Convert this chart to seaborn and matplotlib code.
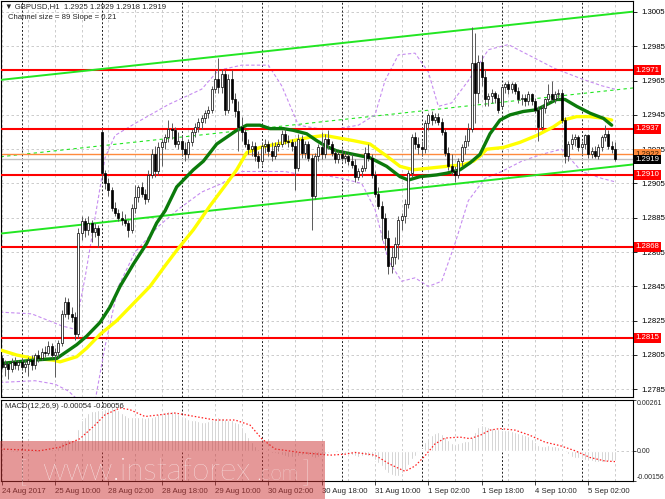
import numpy as np
import matplotlib
matplotlib.use("Agg")
import matplotlib.pyplot as plt
import seaborn as sns
from matplotlib.patches import Rectangle

sns.set_style("white")
plt.rcParams['font.family'] = ['Liberation Sans', 'DejaVu Sans']

# ---------------- data (GBPUSD H1, 24 Aug 18:00 .. 5 Sep 10:00) ----------------
opens = [1.2803,1.2798,1.2800,1.2797,1.2801,1.2799,1.2801,1.2798,1.2800,1.2802,
         1.2799,1.2805,1.2803,1.2807,1.2806,1.2810,1.2805,1.2807,1.2812,1.2829,
         1.2836,1.2829,1.2827,1.2817,1.2876,1.2883,1.2878,1.2882,1.2877,1.2879,
         1.2935,1.2911,1.2905,1.2901,1.2891,1.2888,1.2885,1.2884,1.2882,1.2878,
         1.2891,1.2897,1.2903,1.2899,1.2896,1.2910,1.2922,1.2912,1.2926,1.2929,
         1.2932,1.2937,1.2936,1.2928,1.2930,1.2925,1.2922,1.2929,1.2935,1.2938,
         1.2941,1.2943,1.2946,1.2948,1.2960,1.2966,1.2961,1.2969,1.2948,1.2966,
         1.2954,1.2947,1.2938,1.2935,1.2928,1.2925,1.2927,1.2921,1.2918,1.2927,
         1.2928,1.2924,1.2921,1.2927,1.2928,1.2934,1.2930,1.2929,1.2927,1.2914,
         1.2931,1.2923,1.2928,1.2920,1.2898,1.2921,1.2926,1.2922,1.2931,1.2928,
         1.2923,1.2919,1.2922,1.2920,1.2921,1.2918,1.2916,1.2909,1.2912,1.2914,
         1.2923,1.2920,1.2910,1.2899,1.2892,1.2885,1.2873,1.2857,1.2862,1.2870,
         1.2884,1.2886,1.2893,1.2911,1.2932,1.2928,1.2926,1.2925,1.2940,1.2945,
         1.2942,1.2944,1.2941,1.2935,1.2923,1.2915,1.2912,1.2910,1.2918,1.2926,
         1.2930,1.2937,1.2975,1.2958,1.2976,1.2967,1.2954,1.2956,1.2958,1.2955,
         1.2950,1.2961,1.2963,1.2960,1.2963,1.2959,1.2954,1.2955,1.2953,1.2957,
         1.2953,1.2948,1.2938,1.2949,1.2954,1.2957,1.2954,1.2957,1.2958,1.2942,
         1.2921,1.2928,1.2931,1.2932,1.2926,1.2928,1.2933,1.2922,1.2924,1.2921,
         1.2926,1.2932,1.2934,1.2927,1.2925]
highs = [1.2805,1.2802,1.2801,1.2803,1.2804,1.2802,1.2803,1.2802,1.2804,1.2805,
         1.2806,1.2808,1.2809,1.2810,1.2813,1.2812,1.2809,1.2814,1.2831,1.2839,
         1.2838,1.2833,1.2830,1.2879,1.2886,1.2885,1.2886,1.2884,1.2882,1.2881,
         1.2937,1.2913,1.2908,1.2903,1.2894,1.2890,1.2889,1.2887,1.2884,1.2893,
         1.2904,1.2904,1.2906,1.2902,1.2913,1.2925,1.2927,1.2929,1.2931,1.2934,
         1.2942,1.2940,1.2938,1.2935,1.2933,1.2929,1.2931,1.2937,1.2940,1.2943,
         1.2945,1.2948,1.2950,1.2962,1.2971,1.2978,1.2972,1.2971,1.2969,1.2971,
         1.2958,1.2953,1.2944,1.2937,1.2931,1.2930,1.2929,1.2924,1.2929,1.2931,
         1.2930,1.2929,1.2929,1.2931,1.2936,1.2937,1.2933,1.2931,1.2930,1.2934,
         1.2933,1.2930,1.2930,1.2922,1.2923,1.2928,1.2935,1.2934,1.2936,1.2930,
         1.2925,1.2924,1.2925,1.2924,1.2923,1.2922,1.2919,1.2914,1.2916,1.2926,
         1.2928,1.2922,1.2912,1.2903,1.2895,1.2888,1.2878,1.2868,1.2874,1.2886,
         1.2888,1.2896,1.2913,1.2934,1.2935,1.2932,1.2930,1.2942,1.2946,1.2947,
         1.2946,1.2946,1.2943,1.2937,1.2926,1.2922,1.2915,1.2920,1.2928,1.2933,
         1.2940,1.2996,1.2993,1.2980,1.2980,1.2972,1.2958,1.2960,1.2959,1.2957,
         1.2962,1.2964,1.2965,1.2964,1.2964,1.2961,1.2957,1.2957,1.2959,1.2958,
         1.2955,1.2950,1.2951,1.2955,1.2963,1.2965,1.2959,1.2960,1.2960,1.2944,
         1.2930,1.2934,1.2934,1.2933,1.2930,1.2934,1.2934,1.2926,1.2927,1.2928,
         1.2933,1.2939,1.2936,1.2930,1.2929]
lows = [1.2797,1.2793,1.2791,1.2795,1.2797,1.2796,1.2796,1.2795,1.2793,1.2796,
        1.2797,1.2801,1.2802,1.2804,1.2805,1.2803,1.2792,1.2804,1.2810,1.2827,
        1.2826,1.2824,1.2814,1.2815,1.2872,1.2874,1.2875,1.2871,1.2874,1.2868,
        1.2907,1.2902,1.2898,1.2889,1.2886,1.2883,1.2881,1.2880,1.2874,1.2876,
        1.2888,1.2894,1.2897,1.2893,1.2894,1.2908,1.2909,1.2910,1.2915,1.2925,
        1.2929,1.2931,1.2926,1.2925,1.2921,1.2918,1.2920,1.2927,1.2932,1.2935,
        1.2937,1.2940,1.2943,1.2946,1.2958,1.2958,1.2958,1.2945,1.2946,1.2952,
        1.2944,1.2924,1.2930,1.2926,1.2922,1.2921,1.2918,1.2914,1.2916,1.2923,
        1.2921,1.2918,1.2919,1.2924,1.2926,1.2928,1.2926,1.2924,1.2901,1.2912,
        1.2920,1.2920,1.2918,1.2878,1.2896,1.2918,1.2919,1.2920,1.2925,1.2921,
        1.2917,1.2917,1.2918,1.2917,1.2916,1.2914,1.2906,1.2907,1.2909,1.2912,
        1.2918,1.2908,1.2897,1.2890,1.2872,1.2866,1.2852,1.2853,1.2858,1.2861,
        1.2878,1.2882,1.2891,1.2909,1.2925,1.2922,1.2921,1.2923,1.2936,1.2939,
        1.2940,1.2939,1.2933,1.2921,1.2913,1.2910,1.2906,1.2908,1.2915,1.2922,
        1.2927,1.2935,1.2940,1.2952,1.2962,1.2950,1.2950,1.2952,1.2952,1.2946,
        1.2949,1.2958,1.2957,1.2958,1.2957,1.2952,1.2951,1.2950,1.2951,1.2951,
        1.2946,1.2930,1.2936,1.2946,1.2952,1.2953,1.2952,1.2954,1.2940,1.2917,
        1.2918,1.2925,1.2927,1.2924,1.2922,1.2925,1.2920,1.2920,1.2920,1.2919,
        1.2924,1.2930,1.2925,1.2923,1.2918]
closes = [1.2798,1.2800,1.2797,1.2801,1.2799,1.2801,1.2798,1.2800,1.2802,1.2799,
          1.2805,1.2803,1.2807,1.2806,1.2810,1.2805,1.2807,1.2812,1.2829,1.2836,
          1.2829,1.2827,1.2817,1.2876,1.2883,1.2878,1.2882,1.2877,1.2879,1.2875,
          1.2911,1.2905,1.2901,1.2891,1.2888,1.2885,1.2884,1.2882,1.2878,1.2891,
          1.2897,1.2903,1.2899,1.2896,1.2910,1.2922,1.2912,1.2926,1.2929,1.2932,
          1.2937,1.2936,1.2928,1.2930,1.2925,1.2922,1.2929,1.2935,1.2938,1.2941,
          1.2943,1.2946,1.2948,1.2960,1.2966,1.2961,1.2969,1.2948,1.2966,1.2954,
          1.2947,1.2938,1.2935,1.2928,1.2925,1.2927,1.2921,1.2918,1.2927,1.2928,
          1.2924,1.2921,1.2927,1.2928,1.2934,1.2930,1.2929,1.2927,1.2914,1.2931,
          1.2923,1.2928,1.2920,1.2898,1.2921,1.2926,1.2922,1.2931,1.2928,1.2923,
          1.2919,1.2922,1.2920,1.2921,1.2918,1.2916,1.2909,1.2912,1.2914,1.2923,
          1.2920,1.2910,1.2899,1.2892,1.2885,1.2873,1.2857,1.2862,1.2870,1.2884,
          1.2886,1.2893,1.2911,1.2932,1.2928,1.2926,1.2925,1.2940,1.2945,1.2942,
          1.2944,1.2941,1.2935,1.2923,1.2915,1.2912,1.2910,1.2918,1.2926,1.2930,
          1.2937,1.2975,1.2958,1.2976,1.2967,1.2954,1.2956,1.2958,1.2955,1.2948,
          1.2961,1.2963,1.2960,1.2963,1.2959,1.2954,1.2955,1.2953,1.2957,1.2953,
          1.2948,1.2938,1.2949,1.2954,1.2957,1.2954,1.2957,1.2958,1.2942,1.2921,
          1.2928,1.2931,1.2932,1.2926,1.2928,1.2933,1.2922,1.2924,1.2921,1.2926,
          1.2932,1.2934,1.2927,1.2925,1.2919]

# moving averages read at selected bars
ma_green_x = [-0.5, 9.5, 16.5, 19.5, 22.5, 25.5, 29.5, 32.5, 35.5, 39.5, 43.5, 46.5,
              49, 52.5, 57.5, 60.5, 64.5, 67.5, 70.5, 73.5, 77.5, 80.5, 84.5, 87.5,
              91.5, 94.5, 97, 100.5, 105.5, 110.5, 115.5, 119.5, 122, 125.5, 130.5,
              133.5, 137.5, 140.5, 143.5, 146.5, 149.5, 152.5, 156.5, 160.5, 163.5,
              166.5, 169, 172.5, 176.5, 180.5, 183]
ma_green_y = [1.2800, 1.2802, 1.2803, 1.2807, 1.2811, 1.2816, 1.2824, 1.2833, 1.2845,
              1.2858, 1.2870, 1.2882, 1.2889, 1.2903, 1.2913, 1.2918, 1.2928, 1.2932,
              1.2936, 1.2939, 1.2939, 1.2937, 1.2937, 1.2936, 1.2934, 1.2930, 1.2927,
              1.2924, 1.2922, 1.2920, 1.2915, 1.2909, 1.2907, 1.2909, 1.2910, 1.2911,
              1.2913, 1.2917, 1.2922, 1.2934, 1.2942, 1.2945, 1.2947, 1.2948, 1.2951,
              1.2954, 1.2954, 1.2950, 1.2946, 1.2943, 1.2939]
ma_yellow_x = [-0.5, 4.5, 9.5, 15.5, 17.5, 22.5, 25.5, 29.5, 34.5, 39.5, 44.5, 49,
               52.5, 57.5, 62.5, 67.5, 70.5, 73.5, 77.5, 82.5, 87.5, 92.5, 97, 105.5,
               110.5, 115.5, 119.5, 123.5, 128.5, 133.5, 138.5, 141.5, 143.5, 145.5,
               150.5, 155.5, 160.5, 165.5, 168.5, 172.5, 176.5, 180.5, 183]
ma_yellow_y = [1.2808, 1.2805, 1.2803, 1.2802, 1.2801, 1.2804, 1.2809, 1.2817, 1.2825,
               1.2835, 1.2845, 1.2857, 1.2866, 1.2878, 1.2892, 1.2905, 1.2913, 1.2923,
               1.2926, 1.2928, 1.2930, 1.2932, 1.2933, 1.2930, 1.2928, 1.2921, 1.2915,
               1.2913, 1.2914, 1.2915, 1.2916, 1.2918, 1.2921, 1.2925, 1.2926, 1.2929,
               1.2933, 1.2938, 1.2942, 1.2944, 1.2944, 1.2943, 1.2942]

# envelope bands (dashed violet)
band_up_x = [-0.5, 9, 18, 22, 25, 28, 31, 34, 40, 50, 60, 65, 72, 80, 84, 89, 95, 101,
             107, 112, 115, 119, 124, 128, 131, 135, 140, 146, 152, 158, 166, 174, 180, 184]
band_up_y = [1.2830, 1.2829, 1.2822, 1.2820, 1.2850, 1.2885, 1.2920, 1.2933, 1.2940,
             1.2951, 1.2960, 1.2971, 1.2974, 1.2974, 1.2962, 1.2939, 1.2937, 1.2937,
             1.2939, 1.2945, 1.2965, 1.2980, 1.2981, 1.2970, 1.2950, 1.2952, 1.2965,
             1.2983, 1.2986, 1.2980, 1.2972, 1.2966, 1.2962, 1.2960]
band_lo_x = [-0.5, 10, 16, 20, 25, 28, 31, 35, 40, 47, 53, 60, 66, 72, 78, 85, 90, 96,
             102, 108, 112, 116, 120, 124, 128, 132, 136, 140, 145, 150, 156, 162, 168,
             174, 180, 184]
band_lo_y = [1.2789, 1.2790, 1.2788, 1.2784, 1.2775, 1.2778, 1.2810, 1.2845, 1.2865,
             1.2880, 1.2890, 1.2900, 1.2905, 1.2912, 1.2912, 1.2912, 1.2910, 1.2910,
             1.2908, 1.2905, 1.2890, 1.2860, 1.2848, 1.2850, 1.2845, 1.2848, 1.2870,
             1.2895, 1.2908, 1.2912, 1.2918, 1.2922, 1.2925, 1.2912, 1.2908, 1.2906]

# regression channel (ends at the chart edges)
channel_x = [-0.36, 189.4]
channel_upper = [1.29654, 1.30052]
channel_middle = [1.29206, 1.29607]
channel_lower = [1.28758, 1.29161]

red_levels = [1.2971, 1.2937, 1.2910, 1.2868, 1.2815]
orange_level = 1.2922
last_price = 1.2919

price_ticks = [1.3005, 1.2985, 1.2965, 1.2945, 1.2925, 1.2905, 1.2885, 1.2865,
               1.2845, 1.2825, 1.2805, 1.2785]

time_tick_bars = [0, 16, 32, 48, 64, 80, 96, 112, 128, 144, 160, 176]
time_tick_labels = ["24 Aug 2017", "25 Aug 10:00", "28 Aug 02:00", "28 Aug 18:00",
                    "29 Aug 10:00", "30 Aug 02:00", "30 Aug 18:00", "31 Aug 10:00",
                    "1 Sep 02:00", "1 Sep 18:00", "4 Sep 10:00", "5 Sep 02:00"]
day_start_bars = [6, 30, 54, 78, 102, 126, 150, 174]

# MACD histogram (x1e-5), one value per bar
macd_hist = [-3, -4, -5, -4, -3, -4, -5, -4, -3, -2, -1, 0, 2, 4, 6, 8, 10, 18, 44, 53,
             58, 56, 53, 114, 158, 176, 194, 202, 206, 208, 211, 216, 220, 224, 220, 211,
             194, 185, 176, 176, 176, 172, 171, 167, 171, 176, 181, 188, 194, 197, 202,
             202, 197, 188, 181, 171, 164, 158, 157, 153, 150, 150, 153, 158, 167, 171,
             167, 164, 160, 157, 150, 141, 123, 97, 70, 44, 26, 9, 4, 0, -5, -11, -14,
             -18, -23, -26, -30, -32, -30, -26, -23, -19, -23, -35, -37, -30, -23, -18,
             -12, -5, -4, -2, -5, -12, -18, -23, -26, -30, -26, -23, -26, -35, -48, -62,
             -79, -97, -114, -127, -132, -128, -114, -97, -76, -44, -26, -9, 9, 44, 65,
             79, 93, 97, 88, 70, 53, 40, 35, 40, 44, 48, 51, 70, 97, 123, 132, 128, 123,
             118, 114, 111, 106, 106, 104, 100, 97, 92, 86, 79, 76, 62, 44, 30, 26, 26,
             30, 26, 23, 18, 12, 0, -18, -30, -37, -40, -44, -48, -51, -55, -56, -58,
             -58, -56, -55, -55, -54]
macd_sig_x = [-0.5, 11.5, 17.5, 23.5, 28, 31, 35.5, 38.5, 43, 47.5, 52, 58, 64, 70,
              74.5, 78, 82, 89.5, 98.5, 103, 106, 112, 116.5, 121, 124, 127, 130, 133,
              137.5, 140.5, 143.5, 146.5, 149.5, 154, 158.5, 163, 167.5, 172, 176.5,
              181, 184]
macd_sig_y = [9, 0, 18, 62, 132, 185, 220, 211, 176, 185, 194, 176, 158, 158, 132, 62,
              9, -9, -23, -18, -9, -23, -70, -106, -79, -26, 35, 65, 70, 62, 79, 106,
              114, 106, 79, 44, 26, 0, -35, -53, -56]

# ---------------- figure ----------------
W, H = 665, 499
fig = plt.figure(figsize=(W / 100, H / 100), dpi=100)
fig.patch.set_facecolor("white")


def fx(px):
    return px / W


def fy(py):
    return 1 - py / H


ax = fig.add_axes([fx(0.5), fy(397), fx(633) - fx(0.5), fy(1) - fy(397)])
axm = fig.add_axes([fx(0.5), fy(481), fx(633) - fx(0.5), fy(400) - fy(481)])

XL = (-0.36, 189.4)
O = np.array(opens); Hh = np.array(highs); L = np.array(lows); C = np.array(closes)
N = len(O)
x = np.arange(N)

grid_kw = dict(color="#c4c4c4", lw=0.6, ls=(0, (3, 3)), zorder=0)
sep_kw = dict(color="#202020", lw=0.7, ls=(0, (2, 2)), zorder=1)
for a in (ax, axm):
    for b in range(0, 190, 8):
        a.axvline(b, **grid_kw)
    for b in day_start_bars:
        a.axvline(b, **sep_kw)
for p in price_ticks:
    ax.axhline(p, **grid_kw)
axm.axhline(0, **grid_kw)

# channel
ax.plot(channel_x, channel_upper, color="#22e622", lw=1.4, zorder=6)
ax.plot(channel_x, channel_lower, color="#22e622", lw=1.4, zorder=6)
ax.plot(channel_x, channel_middle, color="#22e622", lw=0.8, ls=(0, (3, 3)), zorder=2)

# bands
sns.lineplot(x=band_up_x, y=band_up_y, ax=ax, color="#c68cf0", lw=0.8,
             linestyle=(0, (3, 2)), zorder=2, legend=False)
sns.lineplot(x=band_lo_x, y=band_lo_y, ax=ax, color="#c68cf0", lw=0.8,
             linestyle=(0, (3, 2)), zorder=2, legend=False)

# horizontal levels
ax.axhline(last_price, color="#c0c0c0", lw=1.0, zorder=2)
ax.axhline(orange_level, color="#ff8a3c", lw=1.0, zorder=2)
for lv in red_levels:
    ax.axhline(lv, color="#ff0000", lw=1.5, zorder=5)

# moving averages
sns.lineplot(x=ma_yellow_x, y=ma_yellow_y, ax=ax, color="#ffff00", lw=2.4,
             zorder=7, legend=False)
sns.lineplot(x=ma_green_x, y=ma_green_y, ax=ax, color="#0b7a0b", lw=2.4,
             zorder=7, legend=False)

# candles
up = C >= O
body_lo = np.minimum(O, C)
body_h = np.maximum(np.abs(C - O), 0.00004)
ax.vlines(x, L, Hh, color="#5a5a5a", lw=0.7, zorder=8)
ax.bar(x[up], body_h[up], bottom=body_lo[up], width=0.62, color="white",
       edgecolor="black", lw=0.5, zorder=9)
ax.bar(x[~up], body_h[~up], bottom=body_lo[~up], width=0.62, color="black",
       edgecolor="black", lw=0.5, zorder=9)

ax.set_xlim(*XL)
ax.set_ylim(1.278051, 1.301141)
ax.set_xticks([])
ax.yaxis.tick_right()
ax.set_yticks(price_ticks)
ax.set_yticklabels([f"{p:.4f}" for p in price_ticks])
ax.tick_params(axis="y", right=True, length=3, width=0.6, pad=3, labelsize=5.6,
               colors="black", direction="out")
for s in ax.spines.values():
    s.set_color("black"); s.set_linewidth(0.8)

lab_tr = ax.get_yaxis_transform()
for lv in red_levels:
    ax.text(1.004, lv, f"{lv:.4f}", transform=lab_tr, va="center", ha="left",
            fontsize=5.6, color="white", clip_on=False, zorder=20,
            bbox=dict(boxstyle="square,pad=0.18", fc="#ff0000", ec="none"))
ax.text(1.004, orange_level, f"{orange_level:.4f}", transform=lab_tr, va="center",
        ha="left", fontsize=5.6, color="#3a2000", clip_on=False, zorder=20,
        bbox=dict(boxstyle="square,pad=0.18", fc="#ff8a3c", ec="none"))
ax.text(1.004, last_price, f"{last_price:.4f}", transform=lab_tr, va="center",
        ha="left", fontsize=5.6, color="white", clip_on=False, zorder=21,
        bbox=dict(boxstyle="square,pad=0.18", fc="black", ec="none"))

ax.text(0.007, 0.996, "\u25bc GBPUSD,H1  1.2925 1.2929 1.2918 1.2919",
        transform=ax.transAxes, va="top", ha="left", fontsize=5.6, zorder=25)
ax.text(0.012, 0.968, "Channel size = 89 Slope = 0.21", transform=ax.transAxes,
        va="top", ha="left", fontsize=5.6, zorder=25)

# MACD panel
axm.bar(x, np.array(macd_hist) * 1e-5, width=0.66, color="#bdbdbd", zorder=2)
sns.lineplot(x=macd_sig_x, y=np.array(macd_sig_y) * 1e-5, ax=axm, color="#ff2020",
             lw=0.9, linestyle=(0, (1.2, 1.6)), zorder=3, legend=False)
axm.set_xlim(*XL)
axm.set_ylim(-0.00156, 0.00261)
axm.yaxis.tick_right()
axm.set_yticks([0.00261, 0.0, -0.00156])
axm.set_yticklabels(["0.00261", "0.00", "-0.00156"])
axm.tick_params(axis="y", right=True, length=2, width=0.6, pad=1, labelsize=5.0,
                direction="out")
yl = axm.get_yticklabels()
yl[0].set_va("top"); yl[2].set_va("bottom")
axm.set_xticks(time_tick_bars)
axm.set_xticklabels(time_tick_labels)
axm.tick_params(axis="x", bottom=True, length=3, width=0.6, pad=2, labelsize=5.6,
                direction="out")
for t in axm.get_xticklabels():
    t.set_ha("left")
for s in axm.spines.values():
    s.set_color("black"); s.set_linewidth(0.8)
axm.text(0.007, 0.96, "MACD(12,26,9) -0.00054 -0.00056", transform=axm.transAxes,
         va="top", ha="left", fontsize=5.6, zorder=25)

# watermark
fig.patches.append(Rectangle((0, fy(499)), fx(325), fy(441) - fy(499),
                             transform=fig.transFigure, fc="#cc3333", ec="none",
                             alpha=0.5, zorder=30))
renderer = fig.canvas.get_renderer()
wm_kw = dict(color="white", alpha=0.9, family=["Lato", "DejaVu Sans"],
             fontweight="light", ha="left", va="baseline", zorder=31)
wm = fig.text(fx(43), fy(480), "www.instaforex", fontsize=30, **wm_kw)
w0 = wm.get_window_extent(renderer).width
fs = 30 * 208 / w0
wm.set_fontsize(fs)
com = fig.text(fx(256), fy(480), ".com", fontsize=fs * 0.66, **wm_kw)
fig.text(fx(19), fy(482), "[", fontsize=fs * 0.95, **wm_kw)
fig.text(fx(302), fy(482), "]", fontsize=fs * 0.95, **wm_kw)

fig.savefig("out.png", dpi=100)
